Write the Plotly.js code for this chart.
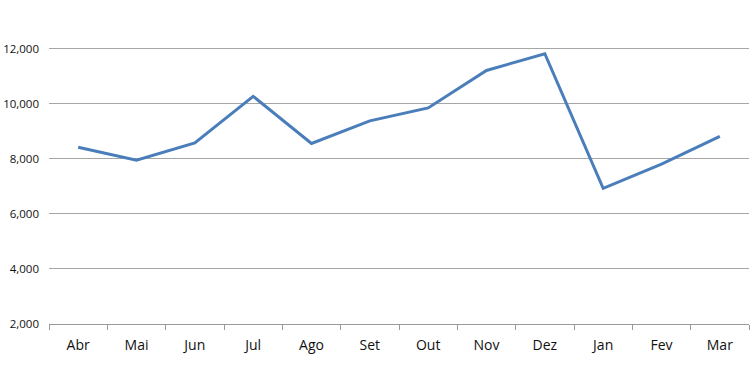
<!DOCTYPE html>
<html><head><meta charset="utf-8">
<script src="https://cdn.plot.ly/plotly-3.0.1.min.js"></script>
<style>body{margin:0;padding:0;background:#fff}#chart{width:750px;height:375px}</style>
</head><body><div id="chart"></div>
<script>
const months = ["Abr","Mai","Jun","Jul","Ago","Set","Out","Nov","Dez","Jan","Fev","Mar"];
const values = [8420, 7950, 8580, 10270, 8560, 9380, 9850, 11210, 11820, 6930, 7810, 8820];
const yTicks = [2000, 4000, 6000, 8000, 10000, 12000];

Plotly.newPlot('chart', [{
  x: months, y: values, type: 'scatter', mode: 'lines',
  line: {color: '#4a7ebb', width: 3}
}], {
  width: 750, height: 375,
  margin: {l: 49, r: 1, t: 46, b: 51},
  paper_bgcolor: '#fff', plot_bgcolor: '#fff',
  showlegend: false,
  font: {family: 'Open Sans, sans-serif', size: 13, color: '#111'},
  xaxis: {
    type: 'category', range: [-0.5, 11.5],
    showgrid: false, showline: true, linecolor: '#999', linewidth: 1,
    ticks: 'outside', tickson: 'boundaries', ticklen: 5, tickcolor: '#999',
    ticklabelstandoff: 8,
    tickfont: {size: 14, color: '#111'}
  },
  yaxis: {
    range: [2000, 12100], tickvals: yTicks, tickformat: ',d',
    showgrid: true, gridcolor: '#a6a6a6', gridwidth: 1,
    zeroline: false, showline: false, ticks: '',
    ticklabelstandoff: 9,
    tickfont: {size: 11.5, color: '#111'}
  }
}, {displayModeBar: false, staticPlot: true});
</script></body></html>
